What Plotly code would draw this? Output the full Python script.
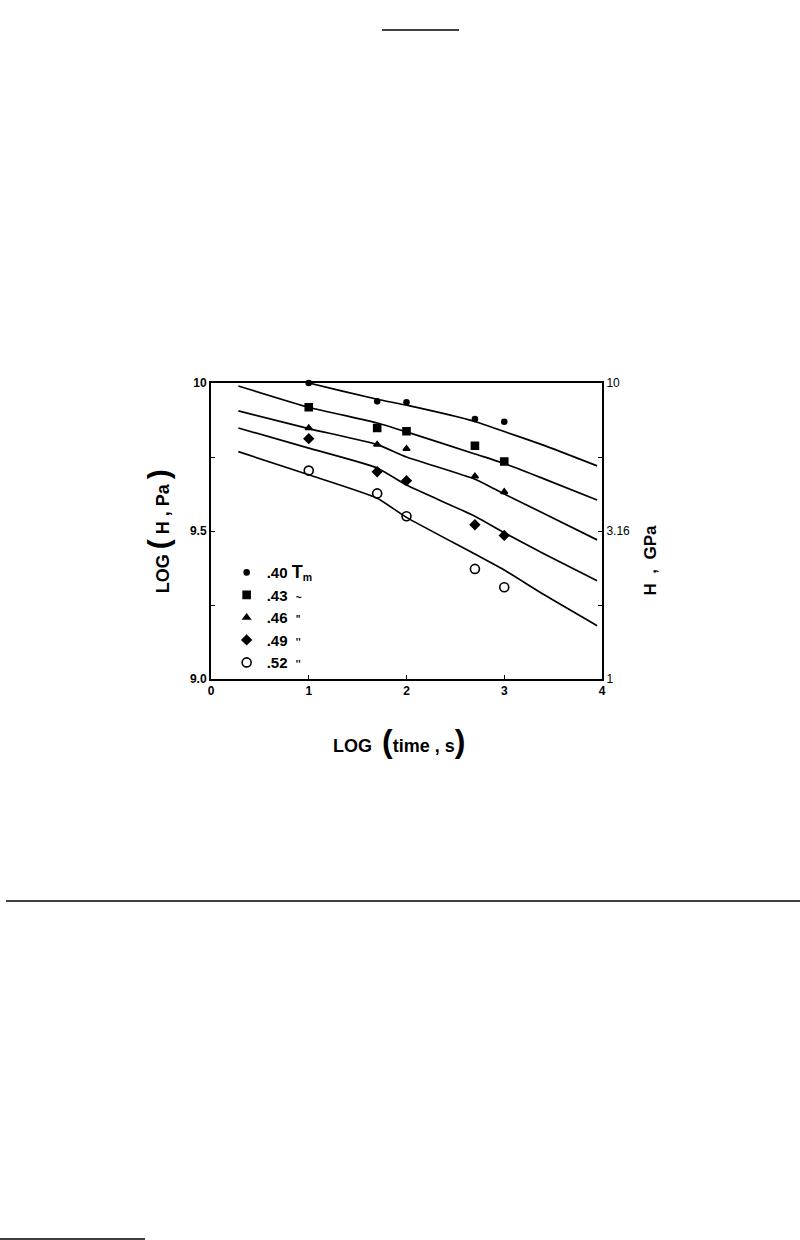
import plotly.graph_objects as go

# ---------------- data ----------------
time_pts = [1.0, 1.7, 2.0, 2.7, 3.0]          # LOG(time, s) of measurements
h40 = [10.0, 9.938, 9.935, 9.878, 9.869]
h43 = [9.918, 9.848, 9.837, 9.788, 9.735]
h46 = [9.848, 9.792, 9.778, 9.685, 9.632]
h49 = [9.812, 9.700, 9.670, 9.521, 9.485]
h52 = [9.704, 9.627, 9.550, 9.372, 9.310]

curve_t = [0.28, 1.0, 1.7, 2.0, 2.7, 3.0, 3.4, 3.95]   # model curves
c40 = [10.06, 10.0, 9.945, 9.925, 9.870, 9.836, 9.790, 9.720]
c43 = [9.990, 9.918, 9.865, 9.835, 9.760, 9.728, 9.677, 9.605]
c46 = [9.906, 9.846, 9.792, 9.750, 9.675, 9.625, 9.560, 9.470]
c49 = [9.848, 9.780, 9.713, 9.655, 9.550, 9.494, 9.424, 9.332]
c52 = [9.768, 9.690, 9.611, 9.546, 9.422, 9.368, 9.286, 9.180]

labels = [".40 <span style='font-size:18px'>T</span><sub>m</sub>",
          ".43  <span style='font-size:10px'>~</span>",
          ".46  <span style='font-size:10px'>\"</span>",
          ".49  <span style='font-size:10px'>''</span>",
          ".52  <span style='font-size:10px'>''</span>"]
symbols = ["circle", "square", "triangle-up", "diamond", "circle-open"]
sizes = [5, 7, 6, 7, 9]

x_ticks = [0, 1, 2, 3, 4]
x_ticklabels = ["0", "1", "2", "3", "4"]
y_ticks = [9.0, 9.5, 10.0]
y_minor = [9.25, 9.75]
yl_ticklabels = ["9.0", "9.5", "10"]
yr_ticklabels = ["1", "3.16", "10"]

FONT = "Liberation Sans"
fig = go.Figure()

for cy in [c40, c43, c46, c49, c52]:
    fig.add_trace(go.Scatter(x=curve_t, y=cy, mode="lines",
                             line=dict(color="black", width=1.7, shape="spline",
                                       smoothing=0.5),
                             showlegend=False, hoverinfo="skip"))

for hy, lab, sym, sz in zip([h40, h43, h46, h49, h52], labels, symbols, sizes):
    fig.add_trace(go.Scatter(x=time_pts, y=hy, mode="markers", name=lab,
                             marker=dict(symbol=sym, size=sz, color="black",
                                         line=dict(color="black", width=1.6)),
                             cliponaxis=False))

# invisible trace for the right axis
fig.add_trace(go.Scatter(x=[0, 4], y=[9, 10], yaxis="y2", mode="none",
                         showlegend=False, hoverinfo="skip"))

minor = dict(tickmode="array", tickvals=y_minor, ticks="inside", ticklen=4,
             tickcolor="black", showgrid=False)

fig.update_layout(
    width=800, height=1240,
    margin=dict(l=211, r=198, t=383, b=561),
    paper_bgcolor="white", plot_bgcolor="white",
    font=dict(family=FONT, color="black"),
    xaxis=dict(range=[0, 4], tickvals=x_ticks, ticktext=x_ticklabels,
               showline=True, linecolor="black", linewidth=2, mirror=True,
               ticks="inside", ticklen=4, tickcolor="black", showgrid=False,
               zeroline=False, tickfont=dict(size=12, weight="bold", color="black")),
    yaxis=dict(range=[9, 10], tickvals=y_ticks, ticktext=yl_ticklabels,
               showline=True, linecolor="black", linewidth=2, mirror=True,
               ticks="inside", ticklen=4, tickcolor="black", showgrid=False,
               zeroline=False, tickfont=dict(size=12, weight="bold", color="black"),
               minor=minor),
    yaxis2=dict(range=[9, 10], overlaying="y", side="right",
                tickvals=y_ticks, ticktext=yr_ticklabels,
                showline=True, linecolor="black", linewidth=2,
                ticks="inside", ticklen=4, tickcolor="black", showgrid=False,
                zeroline=False, tickfont=dict(size=12, color="black"), minor=minor),
    legend=dict(x=0.04, y=0.415, xanchor="left", yanchor="top",
                bgcolor="rgba(0,0,0,0)", font=dict(size=15, weight="bold", color="black"),
                itemsizing="trace", tracegroupgap=0),
    showlegend=True,
)

fig.add_annotation(xref="paper", yref="paper", x=-0.135, y=0.5, textangle=-90,
                   xanchor="center", yanchor="middle", showarrow=False,
                   text="LOG <span style='font-size:30px'>(</span> H , Pa <span style='font-size:30px'>)</span>",
                   font=dict(size=18, weight="bold", color="black"))
fig.add_annotation(xref="paper", yref="paper", x=0.48, y=-0.21, yanchor="middle",
                   xanchor="center", showarrow=False,
                   text="LOG  <span style='font-size:32px'>(</span>time , s<span style='font-size:32px'>)</span>",
                   font=dict(size=18, weight="bold", color="black"))
fig.add_annotation(xref="paper", yref="paper", x=1.125, y=0.4, textangle=-90,
                   xanchor="center", yanchor="middle", showarrow=False,
                   text="H  ,  GPa",
                   font=dict(size=17, weight="bold", color="black"))

def px2paper(xp, yp):
    return (xp - 211) / 391, (679 - yp) / 296

for (x0p, x1p, yp) in [(382, 459, 30), (6, 800, 901), (0, 145, 1239)]:
    x0, y0 = px2paper(x0p, yp)
    x1, _ = px2paper(x1p, yp)
    fig.add_shape(type="line", xref="paper", yref="paper", x0=x0, x1=x1,
                  y0=y0, y1=y0, line=dict(color="black", width=1.5))

fig.write_html("out.html", config={"displayModeBar": False},
               post_script="document.body.style.margin='0';document.body.style.overflow='hidden';")
